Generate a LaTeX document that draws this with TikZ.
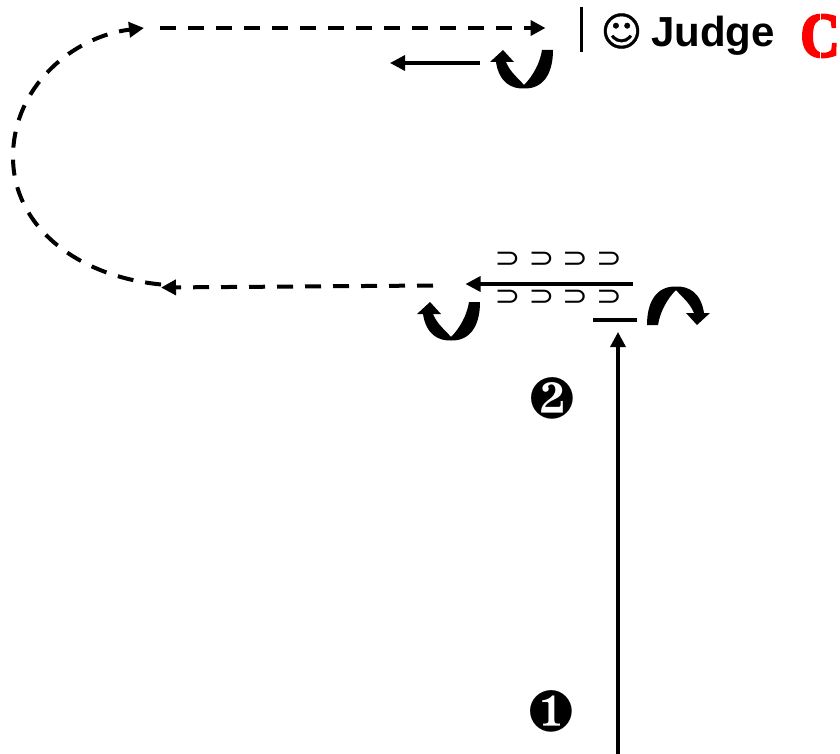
\documentclass[tikz,border=0pt]{standalone}
\usepackage{fontspec}
\usepackage{pifont}
\usetikzlibrary{arrows.meta}
\setmainfont{Liberation Sans}
\newfontfamily\smileyfont[FakeBold=1]{DejaVu Sans}
\newfontfamily\stencilfont[FakeBold=4]{Liberation Serif}
\newfontfamily\setfont{DejaVu Sans}
\tikzset{
	x=1pt, y=-1pt,
	flow/.style = {line width=3.3pt, -{Triangle[length=15pt,width=15pt]}},
	dashflow/.style = {flow, line width=4pt, dash pattern=on 16pt off 12pt},
	glyph/.style = {inner sep=0pt, outer sep=0pt},
	bar/.style = {line width=3.6pt},
	superset/.style = {glyph, xscale=1.1, font=\setfont\fontsize{28}{28}\selectfont},
	number/.style = {glyph, font=\fontsize{58}{58}\selectfont},
	turn/.pic = {
		\fill (0,0) -- (-11,0) .. controls (-13,13) and (-20,26) .. (-29,35)
			.. controls (-35,28) and (-43,22) .. (-47,12) -- (-39,12) -- (-50,0)
			-- (-63,12) -- (-57,12) .. controls (-54,32) and (-42,39) .. (-29,38.5)
			.. controls (-10,39) and (0,24) .. (0,0) -- cycle;
	}
}
\begin{document}
\begin{tikzpicture}
	\useasboundingbox (0,0) rectangle (840,754);
	% header
	\coordinate (barTop) at (581.5,7);
	\coordinate (barBot) at (581.5,52);
	\draw[bar] (barTop) -- (barBot);
	\node[glyph, font=\smileyfont\fontsize{40}{40}\selectfont] (smiley) at (621.5,31) {☺};
	\node[glyph, font=\bfseries\fontsize{42}{42}\selectfont, anchor=base west] (judge) at (651,47) {Judge};
	\node[glyph, text=red, xscale=.86, font=\stencilfont\bfseries\fontsize{63}{63}\selectfont] (grade) at (820,36) {C};
	\draw[white, line width=1.4pt] (820.7,12) -- (820.7,23) (820.7,50) -- (820.7,60);
	% top row
	\coordinate (topStart) at (160,28);
	\coordinate (topEnd) at (545.5,28);
	\coordinate (backStart) at (480,63);
	\coordinate (backEnd) at (390,63);
	\draw[dashflow] (topStart) -- (topEnd);
	\draw[flow] (backStart) -- (backEnd);
	\pic at (553,50) {turn};
	% loop on the left
	\coordinate (loopStart) at (161,284.5);
	\coordinate (loopMid) at (13,157);
	\coordinate (loopEnd) at (144,28);
	\draw[dashflow] (loopStart) .. controls (75,276) and (13,225) .. (loopMid)
		.. controls (13,85) and (75,36) .. (loopEnd);
	% middle row
	\coordinate (lowStart) at (433,285.5);
	\coordinate (lowEnd) at (161,287.5);
	\draw[dashflow] (lowStart) -- (lowEnd);
	\coordinate (midStart) at (633,284);
	\coordinate (midEnd) at (465.5,284);
	\draw[flow] (midStart) -- (midEnd);
	\foreach \x [count=\i] in {507.5,541.5,575,609} {
		\node[superset] (upper\i) at (\x,260) {⊃};
		\node[superset] (lower\i) at (\x,297.5) {⊃};
	}
	\pic at (480,302) {turn};
	\pic[rotate=180] at (647,325) {turn};
	% stem
	\coordinate (stemLeft) at (593,320);
	\coordinate (stemRight) at (637,320);
	\draw[bar] (stemLeft) -- (stemRight);
	\coordinate (riseStart) at (618,754);
	\coordinate (riseEnd) at (618,332);
	\draw[flow] (riseStart) -- (riseEnd);
	\node[number] (first) at (551.5,711.5) {\ding{182}};
	\node[number] (second) at (552.5,398.5) {\ding{183}};
\end{tikzpicture}
\end{document}
